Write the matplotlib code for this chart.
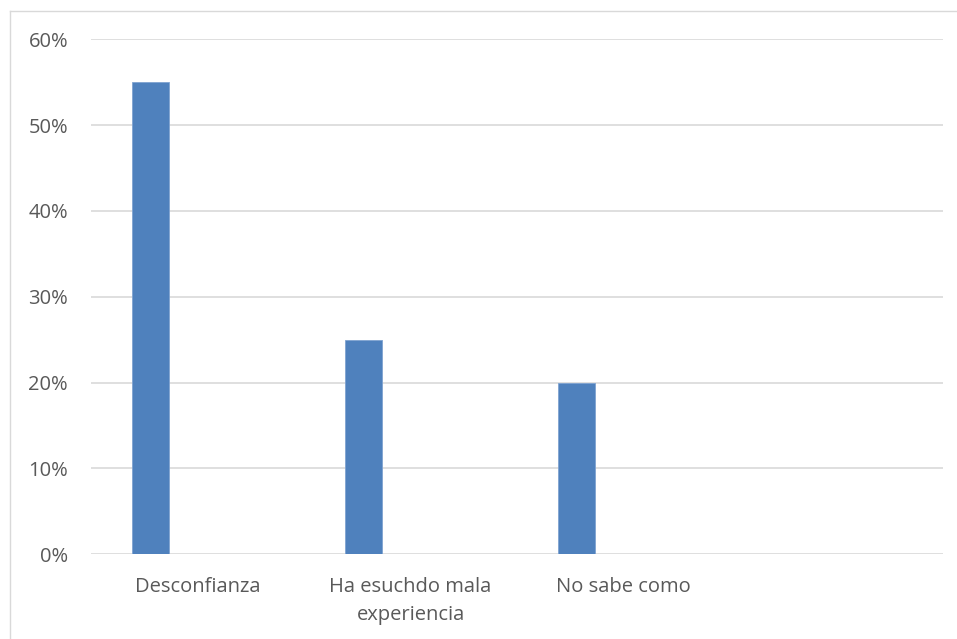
import matplotlib
matplotlib.use("Agg")
import matplotlib.pyplot as plt
from matplotlib.lines import Line2D
import numpy as np

categories = ["Desconfianza", "Ha esuchdo mala\nexperiencia", "No sabe como", ""]
values = [0.55, 0.25, 0.20, None]
yticks = [0, 0.1, 0.2, 0.3, 0.4, 0.5, 0.6]
ytick_labels = ["0%", "10%", "20%", "30%", "40%", "50%", "60%"]

W, H = 957, 639
fig = plt.figure(figsize=(W / 100, H / 100), dpi=100)
ax = fig.add_axes([91 / W, 1 - 554.3 / H, (943 - 91) / W, (554.3 - 39.3) / H])

x = np.arange(len(categories))
bx = [xi - 0.222 for xi, v in zip(x, values) if v is not None]
bv = [v for v in values if v is not None]
ax.bar(bx, bv, width=0.174, color="#4f81bd", edgecolor="#7fa3d1", linewidth=0.6, zorder=3)

ax.set_xlim(-0.5, len(categories) - 0.5)
ax.set_ylim(0, 0.6)
ax.set_yticks(yticks)
ax.set_yticklabels(ytick_labels)
ax.set_xticks(x)
ax.set_xticklabels(categories)
for s in ax.spines.values():
    s.set_visible(False)
ax.grid(axis="y", color="#d9d9d9", linewidth=1.2, zorder=0)
ax.tick_params(axis="both", length=0, colors="#595959", labelsize=14.5)
ax.tick_params(axis="y", pad=16.5)
ax.tick_params(axis="x", pad=16)
for lab in ax.get_xticklabels() + ax.get_yticklabels():
    lab.set_fontfamily("Open Sans")
    lab.set_color("#595959")
for lab in ax.get_xticklabels():
    lab.set_linespacing(1.55)
    lab.set_verticalalignment("top")

# outer chart border (top and left visible)
fig.add_artist(Line2D([9.5 / W, 1.0], [1 - 10.5 / H, 1 - 10.5 / H], color="#d9d9d9", linewidth=1.0))
fig.add_artist(Line2D([9.5 / W, 9.5 / W], [1 - 10.5 / H, 0.0], color="#d9d9d9", linewidth=1.0))

fig.savefig("out.png", dpi=100)
